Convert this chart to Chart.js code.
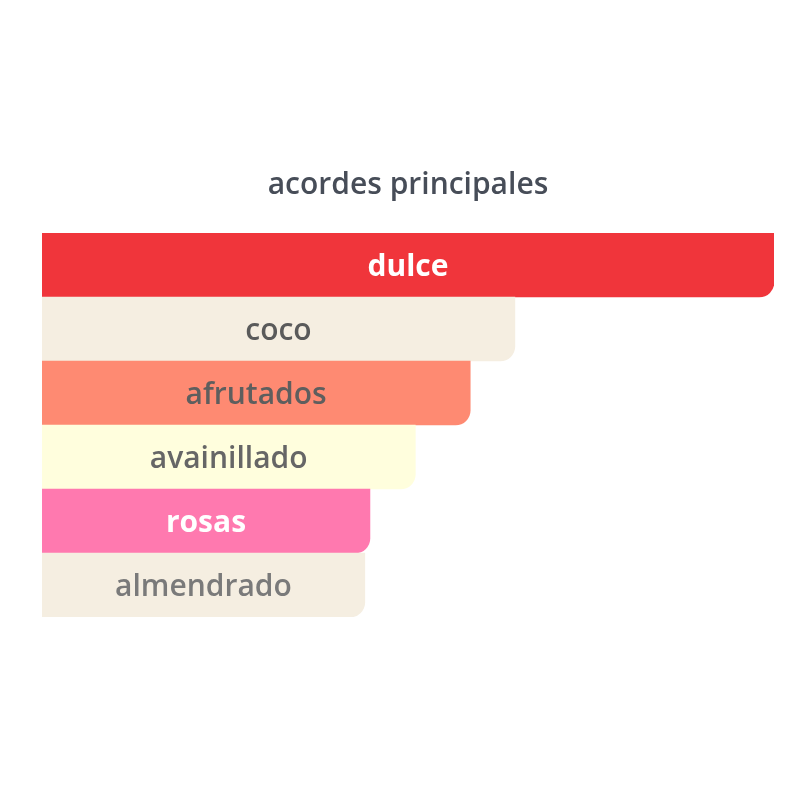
<!DOCTYPE html>
<html>
<head>
<meta charset="utf-8">
<script src="https://cdn.jsdelivr.net/npm/chart.js@4/dist/chart.umd.min.js"></script>
<style>
  html, body { margin: 0; padding: 0; background: #fff; }
  #wrap { width: 800px; height: 800px; }
</style>
</head>
<body>
<div id="wrap"><canvas id="chart"></canvas></div>
<script>
// accords, widest first
const labels = ['dulce', 'coco', 'afrutados', 'avainillado', 'rosas', 'almendrado'];
const values = [100, 64.6, 58.5, 51, 44.8, 44.1];
const barColors = ['#f0353b', '#f5eee1', '#fe8a72', '#fffedd', '#ff79af', '#f5eee1'];
const textColors = ['#ffffff', '#5a5a5a', '#5e5e5e', '#666666', '#ffffff', '#7a7a7a'];

// draw the accord name in the middle of each bar
const barLabels = {
  id: 'barLabels',
  afterDatasetsDraw(chart) {
    const ctx = chart.ctx;
    const meta = chart.getDatasetMeta(0);
    ctx.save();
    ctx.textAlign = 'center';
    ctx.textBaseline = 'middle';
    meta.data.forEach((bar, i) => {
      const { x, y, base } = bar.getProps(['x', 'y', 'base'], true);
      const weight = textColors[i] === '#ffffff' ? '700' : '600';
      ctx.font = weight + ' 30px "Open Sans", sans-serif';
      ctx.fillStyle = textColors[i];
      ctx.fillText(labels[i], (x + base) / 2, y + 2);
    });
    ctx.restore();
  }
};

new Chart(document.getElementById('chart'), {
  type: 'bar',
  data: {
    labels: labels,
    datasets: [{
      data: values,
      backgroundColor: barColors,
      borderRadius: { topLeft: 0, topRight: 0, bottomLeft: 0, bottomRight: 15 },
      borderSkipped: false,
      categoryPercentage: 1,
      barPercentage: 1
    }]
  },
  options: {
    indexAxis: 'y',
    responsive: true,
    maintainAspectRatio: false,
    animation: false,
    layout: { padding: { left: 42, right: 26, top: 160, bottom: 183 } },
    scales: {
      x: { display: false, min: 0, max: 100 },
      y: { display: false }
    },
    plugins: {
      legend: { display: false },
      tooltip: { enabled: false },
      title: {
        display: true,
        text: 'acordes principales',
        color: '#474d58',
        font: { family: '"Open Sans", sans-serif', size: 30, weight: '600' },
        padding: { top: 7, bottom: 30 }
      }
    }
  },
  plugins: [barLabels]
});
</script>
</body>
</html>
